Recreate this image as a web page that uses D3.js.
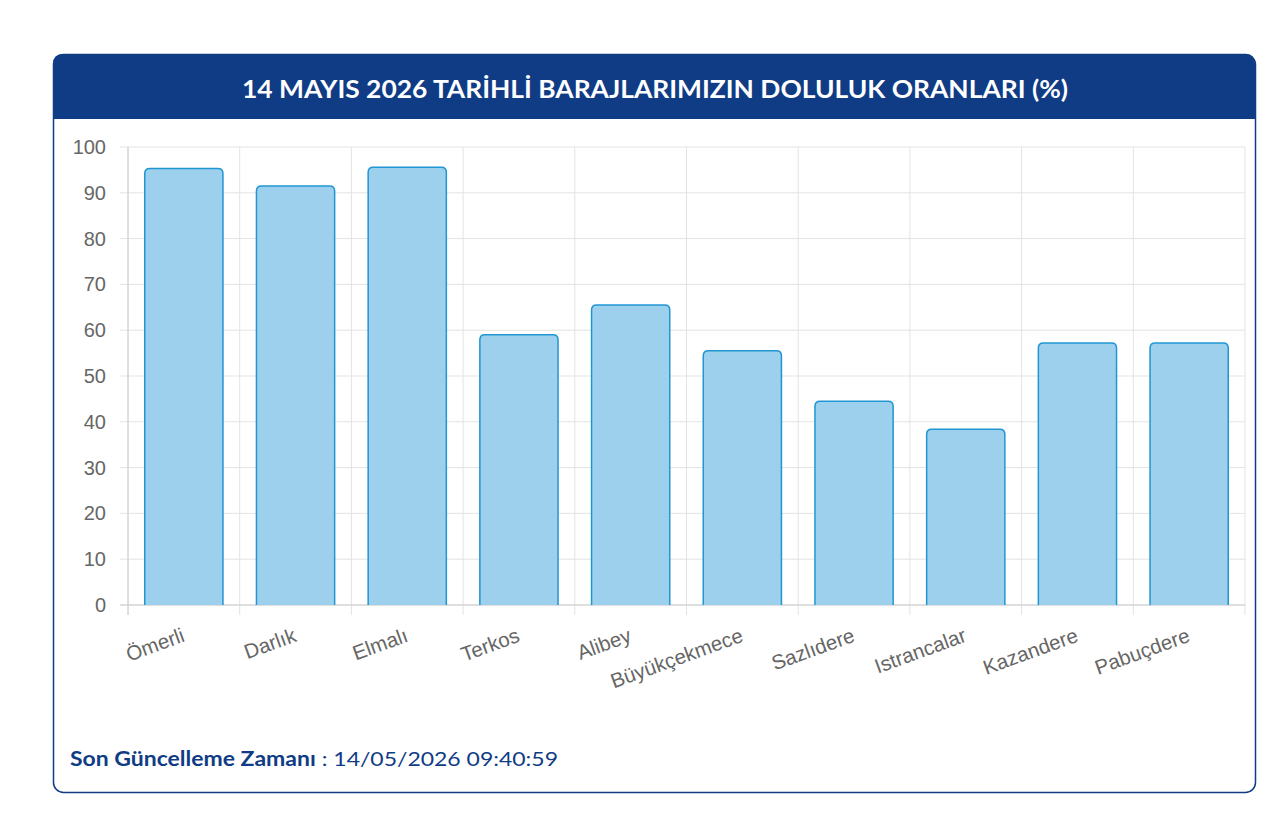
<!DOCTYPE html>
<html><head><meta charset="utf-8">
<script src="https://cdn.jsdelivr.net/npm/d3@7"></script>
<style>body{margin:0;background:#fff;font-family:Lato,"Open Sans",sans-serif}</style>
</head><body><svg id="c" width="1280" height="832"></svg>
<script>
const categories=["Ömerli","Darlık","Elmalı","Terkos","Alibey","Büyükçekmece","Sazlıdere","Istrancalar","Kazandere","Pabuçdere"];
const values=[95.3,91.5,95.6,59.0,65.5,55.5,44.5,38.4,57.2,57.2];
const yTicks=[0,10,20,30,40,50,60,70,80,90,100];
const title="14 MAYIS 2026 TARİHLİ BARAJLARIMIZIN DOLULUK ORANLARI (%)";
const footLabel="Son Güncelleme Zamanı",footValue=" : 14/05/2026 09:40:59";

const svg=d3.select("#c");
const cx=53,cy=54,cw=1202,ch=738;
svg.append("rect").attr("x",cx+0.5).attr("y",cy+0.5).attr("width",cw).attr("height",ch).attr("rx",10).attr("fill","#fff").attr("stroke","#0f3c85").attr("stroke-width",1.5);
svg.append("path").attr("d",`M${cx},${cy+65}V${cy+10}Q${cx},${cy} ${cx+10},${cy}H${cx+cw-10}Q${cx+cw},${cy} ${cx+cw},${cy+10}V${cy+65}Z`).attr("fill","#0f3c85");
svg.append("text").attr("x",cx+cw/2+1).attr("y",cy+44).attr("text-anchor","middle").attr("fill","#fff").attr("font-weight","bold").attr("font-size",24.5).attr("font-family","Lato, sans-serif").attr("textLength",826).attr("lengthAdjust","spacingAndGlyphs").text(title);

const L=128,R=1245,T=147,B=605;
const x=d3.scaleBand().domain(categories).range([L,R]).paddingInner(0.3).paddingOuter(0.15);
const xb=d3.scaleBand().domain(categories).range([L,R]);
const y=d3.scaleLinear().domain([0,100]).range([B,T]);
const g=svg.append("g");
g.selectAll("line.h").data(yTicks).join("line").attr("x1",L-8).attr("x2",R).attr("y1",d=>y(d)).attr("y2",d=>y(d)).attr("stroke","#e3e3e3");
const vx=categories.map(c=>xb(c)).concat([R]);
g.selectAll("line.v").data(vx).join("line").attr("x1",d=>d).attr("x2",d=>d).attr("y1",T).attr("y2",B+10).attr("stroke","#e3e3e3");
g.append("line").attr("x1",L).attr("x2",L).attr("y1",T).attr("y2",B+10).attr("stroke","#ccc");
g.append("line").attr("x1",L-8).attr("x2",R).attr("y1",B).attr("y2",B).attr("stroke","#ccc");
g.selectAll("text.y").data(yTicks).join("text").attr("x",L-22).attr("y",d=>y(d)+7).attr("text-anchor","end").attr("fill","#666").attr("font-size",20).attr("font-family","Liberation Sans, Arial, sans-serif").text(d=>d);
g.selectAll("path.bar").data(categories).join("path").attr("fill","#9dd0ec").attr("stroke","#2196d3").attr("stroke-width",1.5)
 .attr("d",(c,i)=>{const x0=x(c),x1=x0+x.bandwidth(),yt=y(values[i]),r=5;return `M${x0},${B}V${yt+r}Q${x0},${yt} ${x0+r},${yt}H${x1-r}Q${x1},${yt} ${x1},${yt+r}V${B}`;});
g.selectAll("text.x").data(categories).join("text").attr("text-anchor","end").attr("fill","#666").attr("font-size",20.5).attr("font-family","Liberation Sans, Arial, sans-serif")
 .attr("transform",c=>`translate(${xb(c)+xb.bandwidth()/2+2},${B+36}) rotate(-20)`).text(c=>c);
const ft=svg.append("text").attr("x",70).attr("y",766).attr("font-size",20).attr("fill","#0f3c85").attr("textLength",488).attr("lengthAdjust","spacingAndGlyphs");
ft.append("tspan").attr("font-weight","bold").text(footLabel);
ft.append("tspan").text(footValue);
</script></body></html>
